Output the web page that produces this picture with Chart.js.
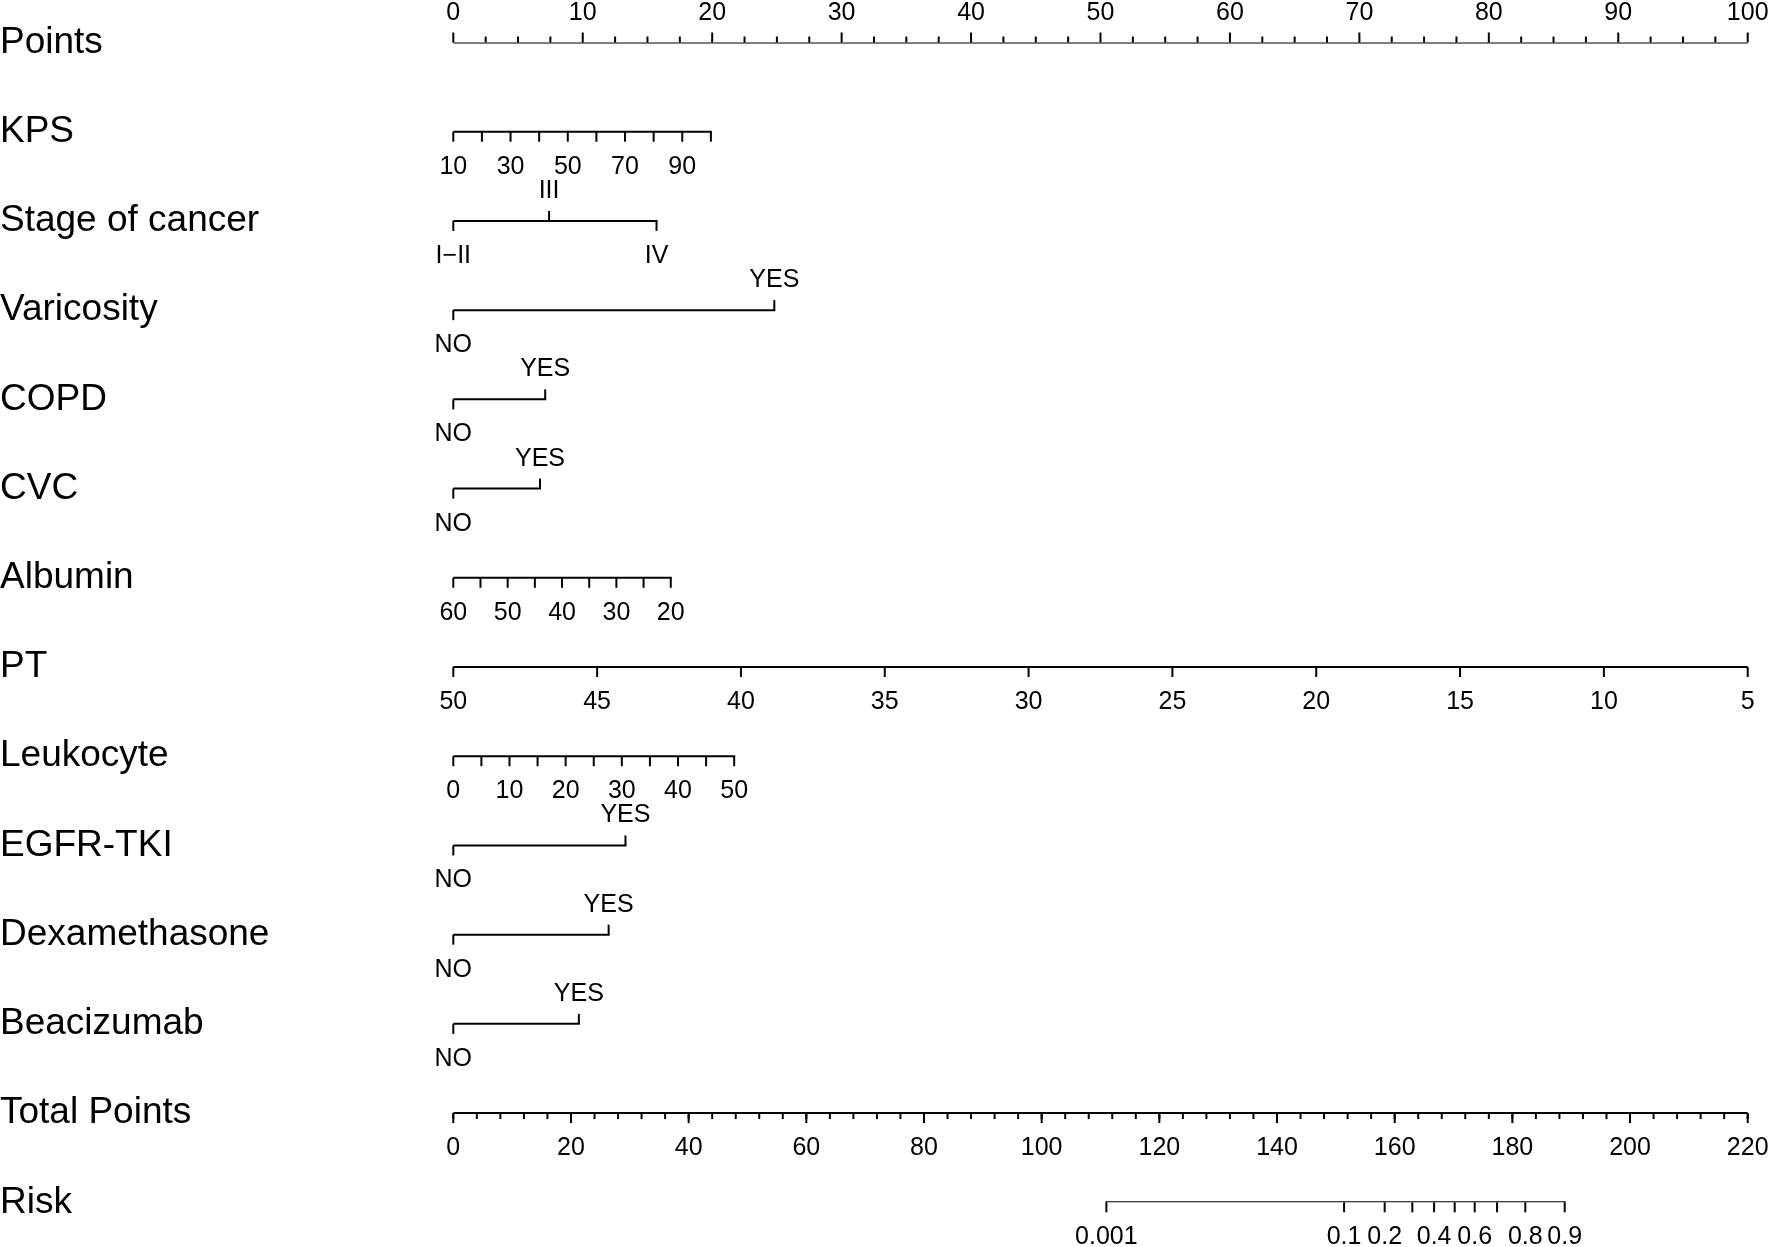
<!DOCTYPE html>
<html>
<head>
<meta charset="utf-8">
<script src="https://cdn.jsdelivr.net/npm/chart.js@4.4.1/dist/chart.umd.min.js"></script>
<style>
html,body{margin:0;padding:0;background:#fff;}
canvas{display:block;}
</style>
</head>
<body>
<canvas id="c" width="1770" height="1247"></canvas>
<script>
// ---------------- data ----------------
const rowLabels = ["Points","KPS","Stage of cancer","Varicosity","COPD","CVC","Albumin","PT","Leukocyte","EGFR-TKI","Dexamethasone","Beacizumab","Total Points","Risk"];

// Points axis (0-100)
const pointsMajorTicks = [0,10,20,30,40,50,60,70,80,90,100];
const pointsMinorStep = 2.5;

// KPS
const kpsTicks = [10,20,30,40,50,60,70,80,90,100];
const kpsTickLabels = [10,30,50,70,90];
const kpsValueRange = [10,100];
const kpsPointRange = [0,19.9];

// Stage of cancer
const stageLevels = ["I\u2212II","III","IV"];
const stagePoints = [0,7.4,15.7];
const stageLabelUp = [false,true,false];

// Binary factors (NO, YES)
const yesNoLevels = ["NO","YES"];
const varicosityPoints = [0,24.8];
const copdPoints = [0,7.1];
const cvcPoints = [0,6.7];
const egfrPoints = [0,13.3];
const dexamethasonePoints = [0,12.0];
const beacizumabPoints = [0,9.7];

// Albumin
const albuminTicks = [60,55,50,45,40,35,30,25,20];
const albuminTickLabels = [60,50,40,30,20];
const albuminValueRange = [60,20];
const albuminPointRange = [0,16.8];

// PT
const ptTicks = [50,45,40,35,30,25,20,15,10,5];
const ptTickLabels = [50,45,40,35,30,25,20,15,10,5];
const ptValueRange = [50,5];
const ptPointRange = [0,100];

// Leukocyte
const leukocyteTicks = [0,5,10,15,20,25,30,35,40,45,50];
const leukocyteTickLabels = [0,10,20,30,40,50];
const leukocyteValueRange = [0,50];
const leukocytePointRange = [0,21.7];

// Total points (0-220)
const totalMajorTicks = [0,20,40,60,80,100,120,140,160,180,200,220];
const totalMinorStep = 4;
const totalMax = 220;

// Risk (position on the Total Points scale)
const riskTicks = [0.001,0.1,0.2,0.3,0.4,0.5,0.6,0.7,0.8,0.9];
const riskTotalPoints = [111.0,151.4,158.3,163.0,166.7,170.2,173.6,177.4,182.2,188.9];
const riskTickLabels = ["0.001","0.1","0.2","0.4","0.6","0.8","0.9"];

// ---------------- build rows ----------------
const MAJOR = 10, MINOR = 6;
const rows = [];

function lin(v, vr, pr){ return pr[0] + (v - vr[0]) / (vr[1] - vr[0]) * (pr[1] - pr[0]); }

// Points row
(function(){
  const ticks = [];
  for (let v = 0; v <= 100 + 1e-9; v += pointsMinorStep) {
    const major = pointsMajorTicks.some(m => Math.abs(m - v) < 1e-9);
    ticks.push({pos: v, len: major ? MAJOR : MINOR, up: true, label: major ? String(v) : null});
  }
  rows.push({row: 0, axis: 'x', ticks});
})();

function continuousRow(row, tickVals, labelVals, vr, pr){
  const ticks = tickVals.map(v => ({
    pos: lin(v, vr, pr), len: MAJOR, up: false,
    label: labelVals.includes(v) ? String(v) : null
  }));
  rows.push({row, axis: 'x', ticks});
}
function categoricalRow(row, levels, pts, ups){
  const ticks = levels.map((l, i) => ({pos: pts[i], len: MAJOR, up: ups[i], label: l}));
  rows.push({row, axis: 'x', ticks});
}

continuousRow(1, kpsTicks, kpsTickLabels, kpsValueRange, kpsPointRange);
categoricalRow(2, stageLevels, stagePoints, stageLabelUp);
categoricalRow(3, yesNoLevels, varicosityPoints, [false,true]);
categoricalRow(4, yesNoLevels, copdPoints, [false,true]);
categoricalRow(5, yesNoLevels, cvcPoints, [false,true]);
continuousRow(6, albuminTicks, albuminTickLabels, albuminValueRange, albuminPointRange);
continuousRow(7, ptTicks, ptTickLabels, ptValueRange, ptPointRange);
continuousRow(8, leukocyteTicks, leukocyteTickLabels, leukocyteValueRange, leukocytePointRange);
categoricalRow(9, yesNoLevels, egfrPoints, [false,true]);
categoricalRow(10, yesNoLevels, dexamethasonePoints, [false,true]);
categoricalRow(11, yesNoLevels, beacizumabPoints, [false,true]);

// Total points row
(function(){
  const ticks = [];
  for (let v = 0; v <= totalMax + 1e-9; v += totalMinorStep) {
    ticks.push({pos: v, len: MINOR, up: false, label: null});
  }
  totalMajorTicks.forEach(v => ticks.push({pos: v, len: MAJOR, up: false, label: String(v)}));
  rows.push({row: 12, axis: 'xt', ticks});
})();

// Risk row
(function(){
  const ticks = riskTicks.map((r, i) => ({
    pos: riskTotalPoints[i], len: MAJOR, up: false,
    label: riskTickLabels.includes(String(r)) ? String(r) : null
  }));
  rows.push({row: 13, axis: 'xt', ticks});
})();

// line datasets (one horizontal axis line per row)
const datasets = rows.map(r => {
  const ps = r.ticks.map(t => t.pos);
  const lo = Math.min(...ps), hi = Math.max(...ps);
  return {
    data: [{x: lo, y: r.row}, {x: hi, y: r.row}],
    xAxisID: r.axis, yAxisID: 'y',
    showLine: true, borderColor: '#000', borderWidth: 2,
    borderCapStyle: 'square', pointRadius: 0, pointHoverRadius: 0, fill: false
  };
});

const FONT = '"Liberation Sans", Arial, Helvetica, sans-serif';

const tickPlugin = {
  id: 'nomoTicks',
  afterDatasetsDraw(chart){
    const ctx = chart.ctx;
    const ys = chart.scales.y;
    ctx.save();
    ctx.strokeStyle = '#000';
    ctx.fillStyle = '#000';
    ctx.lineWidth = 2;
    ctx.lineCap = 'butt';
    ctx.font = '25px ' + FONT;
    ctx.textAlign = 'center';
    ctx.textBaseline = 'alphabetic';
    rows.forEach(r => {
      const sc = chart.scales[r.axis];
      const y = ys.getPixelForValue(r.row);
      r.ticks.forEach(t => {
        const x = sc.getPixelForValue(t.pos);
        const d = t.up ? -1 : 1;
        ctx.beginPath();
        ctx.moveTo(x, y);
        ctx.lineTo(x, y + d * t.len);
        ctx.stroke();
        if (t.label !== null) {
          ctx.fillText(t.label, x, t.up ? y - 23 : y + 42);
        }
      });
    });
    ctx.restore();
  }
};

new Chart(document.getElementById('c'), {
  type: 'scatter',
  data: { datasets },
  options: {
    responsive: false,
    devicePixelRatio: 1,
    animation: false,
    events: [],
    layout: { padding: { left: 0, right: 22.3, top: 42.5, bottom: 44.7 } },
    plugins: { legend: { display: false }, tooltip: { enabled: false } },
    scales: {
      x:  { type: 'linear', min: 0, max: 100, display: false },
      xt: { type: 'linear', min: 0, max: totalMax, display: false },
      y: {
        type: 'linear', min: 0, max: rowLabels.length - 1, reverse: true,
        position: 'left',
        afterFit(scale){ scale.width = 453.3; },
        grid: { display: false, drawTicks: false },
        border: { display: false },
        ticks: {
          stepSize: 1, autoSkip: false, padding: 0,
          crossAlign: 'far',
          color: '#000',
          font: { family: FONT, size: 37 },
          callback: v => rowLabels[v] ?? ''
        }
      }
    }
  },
  plugins: [tickPlugin]
});
</script>
</body>
</html>
